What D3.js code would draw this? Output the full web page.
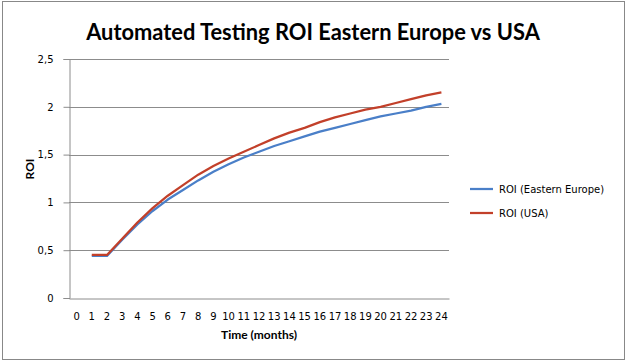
<!DOCTYPE html>
<html lang="en">
<head>
	<meta charset="UTF-8">
	<title>Automated Testing ROI Eastern Europe vs USA</title>
	<script src="https://d3js.org/d3.v7.min.js"></script>
	<style>
		body { margin: 0; background: #fff; }
		svg { display: block; }
		.tick text { font: 10px "DejaVu Sans", sans-serif; fill: #000; }
	</style>
</head>
<body>
	<div id="chart"></div>
	<script>
		// months 0..24 on the category axis
		const months = d3.range(0, 25);
		const seriesMonths = d3.range(1, 25);
		const roiEasternEurope = [0.44, 0.44, 0.61, 0.77, 0.91, 1.03, 1.13, 1.23, 1.32, 1.40, 1.47, 1.53,
			1.59, 1.64, 1.69, 1.74, 1.78, 1.82, 1.86, 1.90, 1.93, 1.96, 2.00, 2.03];
		const roiUSA = [0.45, 0.45, 0.62, 0.79, 0.94, 1.07, 1.18, 1.29, 1.38, 1.46, 1.53, 1.60,
			1.67, 1.73, 1.78, 1.84, 1.89, 1.93, 1.97, 2.00, 2.04, 2.08, 2.12, 2.15];
		const yTicks = [0, 0.5, 1, 1.5, 2, 2.5];
		const seriesNames = ["ROI (Eastern Europe)", "ROI (USA)"];
		const seriesColors = ["#4a7fc8", "#c2402a"];

		const width = 629, height = 363;
		const plot = { left: 69, right: 449, top: 59, bottom: 298 };

		const svg = d3.select("#chart").append("svg")
			.attr("width", width)
			.attr("height", height);

		// outer frame
		svg.append("rect")
			.attr("x", 2.5).attr("y", 1.5)
			.attr("width", 622).attr("height", 358)
			.attr("fill", "none")
			.attr("stroke", "#888");

		const x = d3.scaleBand()
			.domain(months)
			.range([plot.left, plot.right]);

		const y = d3.scaleLinear()
			.domain([0, 2.5])
			.range([plot.bottom, plot.top]);

		// gridlines
		svg.append("g")
			.selectAll("line")
			.data(yTicks.filter(d => d > 0))
			.enter()
			.append("line")
			.attr("x1", plot.left).attr("x2", plot.right)
			.attr("y1", d => Math.round(y(d)) + 0.5)
			.attr("y2", d => Math.round(y(d)) + 0.5)
			.attr("stroke", "#8c8c8c");

		// y axis
		const yAxis = svg.append("g")
			.attr("transform", `translate(${plot.left + 0.5},0)`)
			.call(d3.axisLeft(y)
				.tickValues(yTicks)
				.tickSize(6)
				.tickPadding(10)
				.tickFormat(d => String(d).replace(".", ",")));
		yAxis.select(".domain").attr("stroke", "#8c8c8c");
		yAxis.selectAll(".tick line").attr("stroke", "#8c8c8c");

		// x axis
		const xAxis = svg.append("g")
			.attr("transform", `translate(0,${Math.round(plot.bottom) + 0.5})`)
			.call(d3.axisBottom(x).tickSize(0).tickPadding(14));
		xAxis.select(".domain").attr("stroke", "#8c8c8c");

		// lines
		const line = d3.line()
			.x((d, i) => x(seriesMonths[i]) + x.bandwidth() / 2)
			.y(d => y(d));

		[roiEasternEurope, roiUSA].forEach((values, i) => {
			svg.append("path")
				.datum(values)
				.attr("fill", "none")
				.attr("stroke", seriesColors[i])
				.attr("stroke-width", 2.25)
				.attr("stroke-linejoin", "round")
				.attr("d", line);
		});

		// title, fitted to the reference width
		const title = svg.append("text")
			.attr("x", 313)
			.attr("y", 40)
			.attr("text-anchor", "middle")
			.attr("font-family", "Lato, sans-serif")
			.attr("font-weight", "bold")
			.attr("font-size", 22)
			.text("Automated Testing ROI Eastern Europe vs USA");
		const tw = title.node().getComputedTextLength();
		title.attr("font-size", 22 * 454 / tw);

		// axis titles
		svg.append("text")
			.attr("x", 259)
			.attr("y", 339)
			.attr("text-anchor", "middle")
			.attr("font-family", "Lato, sans-serif")
			.attr("font-weight", "bold")
			.attr("font-size", 12)
			.text("Time (months)");

		svg.append("text")
			.attr("transform", "translate(34,169) rotate(-90)")
			.attr("text-anchor", "middle")
			.attr("font-family", "Lato, sans-serif")
			.attr("font-weight", "bold")
			.attr("font-size", 12)
			.text("ROI");

		// legend
		const legend = svg.append("g")
			.selectAll("g")
			.data(seriesNames)
			.enter()
			.append("g")
			.attr("transform", (d, i) => `translate(470,${189 + i * 24})`);
		legend.append("line")
			.attr("x1", 0).attr("x2", 23)
			.attr("stroke", (d, i) => seriesColors[i])
			.attr("stroke-width", 2.25);
		legend.append("text")
			.attr("x", 29)
			.attr("y", 4)
			.attr("font-family", "DejaVu Sans, sans-serif")
			.attr("font-size", 10)
			.text(d => d);
	</script>
</body>
</html>
